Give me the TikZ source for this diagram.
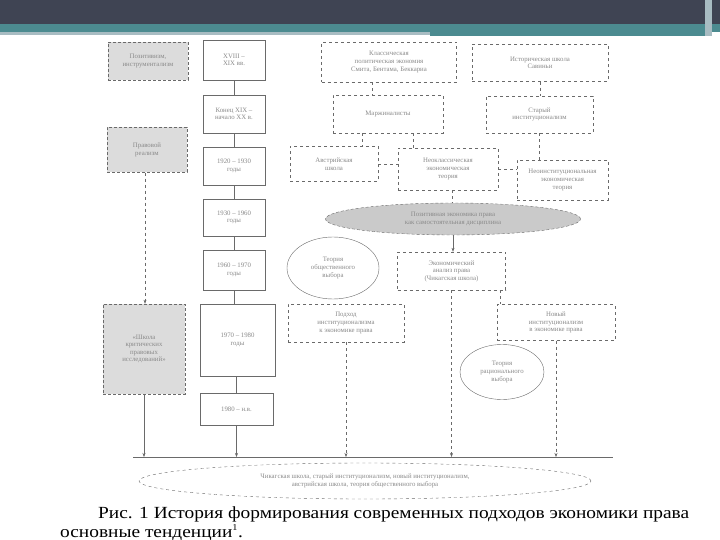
\documentclass[tikz,border=0pt]{standalone}
\usepackage{fontspec}
\setmainfont{Liberation Serif}
\usetikzlibrary{arrows.meta,positioning,shapes.geometric,backgrounds}
\definecolor{slate}{HTML}{3F4453}
\definecolor{band}{HTML}{4C8B90}
\definecolor{haze}{HTML}{A8BCC2}
\definecolor{ink}{HTML}{6A6A6A}
\definecolor{fade}{HTML}{8A8A8A}
\definecolor{shade}{HTML}{DCDCDC}

\begin{document}
\begin{tikzpicture}[x=1pt,y=-1pt,
  font=\fontsize{6.8}{7.6}\selectfont,
  era/.style={draw=ink,fill=white,text=fade,align=center,inner sep=1pt},
  school/.style={era,dashed},
  grey/.style={era,fill=shade,densely dashed},
  oval/.style={ellipse,draw=ink,text=fade,align=center,inner sep=0pt},
  link/.style={draw=ink,thin,dashed},
  arr/.style={link,-{Stealth[length=4pt,width=3pt]}}]
  \useasboundingbox (0,0) rectangle (720,540);
  % slide header
  \fill[slate] (0,0) rectangle (720,24);
  \fill[band] (0,24) rectangle (720,32);
  \fill[haze] (0,32) rectangle (430,35);
  \fill[band] (430,32) rectangle (705,36);
  \fill[haze] (705,0) rectangle (712,36);
  % left column
  \node[grey,minimum width=80pt,minimum height=38pt] (posit) at (148,61) {Позитивизм,\\инструментализм};
  \node[grey,minimum width=80pt,minimum height=45pt] (realism) at (147,150) {Правовой\\реализм};
  \node[grey,minimum width=82pt,minimum height=90pt] (crit) at (144,349) {«Школа\\критических\\правовых\\исследований»};
  % periods
  \node[era,minimum width=62pt,minimum height=40pt] (p1) at (234,60) {XVIII --\\XIX вв.};
  \node[era,minimum width=62pt,minimum height=38pt] (p2) at (234,114) {Конец XIX --\\начало XX в.};
  \node[era,minimum width=62pt,minimum height=38pt] (p3) at (234,166) {1920 -- 1930\\годы};
  \node[era,minimum width=62pt,minimum height=37pt] (p4) at (234,217.5) {1930 -- 1960\\годы};
  \node[era,minimum width=62pt,minimum height=40pt] (p5) at (234,270) {1960 -- 1970\\годы};
  \node[era,minimum width=75pt,minimum height=72pt] (p6) at (237.5,340) {1970 -- 1980\\годы};
  \node[era,minimum width=73pt,minimum height=32pt] (p7) at (236.5,409) {1980 -- н.в.};
  % schools
  \node[school,minimum width=135pt,minimum height=40pt] (classic) at (389,62) {Классическая\\политическая экономия\\Смита, Бентама, Беккариа};
  \node[school,minimum width=136pt,minimum height=37pt] (hist) at (540,63) {Историческая школа\\Савиньи};
  \node[school,minimum width=110pt,minimum height=38pt] (margin) at (388,114) {Маржиналисты};
  \node[school,minimum width=107pt,minimum height=37pt] (oldinst) at (539.5,114.5) {Старый\\институционализм};
  \node[school,minimum width=88pt,minimum height=35pt] (austria) at (334,164) {Австрийская\\школа};
  \node[school,minimum width=100pt,minimum height=42pt] (neocl) at (448,169) {Неоклассическая\\экономическая\\теория};
  \node[school,minimum width=91pt,minimum height=40pt] (neoinst) at (562.5,180) {Неоинституциональная\\экономическая\\теория};
  \node[oval,fill=shade!92!black,densely dashed,minimum width=255pt,minimum height=32pt] (posec) at (453,219) {Позитивная экономика права\\как самостоятельная дисциплина};
  \node[oval,minimum width=92pt,minimum height=62pt] (pubch) at (333,268) {Теория\\общественного\\выбора};
  \node[school,minimum width=108pt,minimum height=38pt] (chicago) at (451.5,271) {Экономический\\анализ права\\(Чикагская школа)};
  \node[school,minimum width=116pt,minimum height=38pt] (instap) at (346,323) {Подход\\институционализма\\к экономике права};
  \node[school,minimum width=118pt,minimum height=36pt] (newinst) at (556,322.5) {Новый\\институционализм\\в экономике права};
  \node[oval,minimum width=84pt,minimum height=55pt] (ratio) at (502,372) {Теория\\рационального\\выбора};
  \node[oval,dashed,minimum width=452pt,minimum height=36pt] (today) at (365,481) {Чикагская школа, старый институционализм, новый институционализм,\\австрийская школа, теория общественного выбора};
  % caption
  \node[font=\fontsize{17}{19}\selectfont,anchor=base west,inner sep=0pt] (cap1) at (98,518) {\scalebox{1.14}[1]{Рис. 1 История формирования современных подходов экономики права}};
  \node[font=\fontsize{17}{19}\selectfont,anchor=base west,inner sep=0pt] (cap2) at (60,537) {\scalebox{1.14}[1]{основные тенденции\textsuperscript{\fontsize{9}{9}\selectfont 1}.}};
  % common line
  \coordinate (busL) at (133,457);
  \coordinate (busR) at (613,457);
  \draw[ink,thin] (busL) -- (busR);
  % links
  \draw[ink] (p1) -- (p2);
  \draw[ink] (p2) -- (p3);
  \draw[ink] (p3) -- (p4);
  \draw[ink] (p4) -- (p5);
  \draw[ink] (p5.south) -- (p5.south |- p6.north);
  \draw[ink] (p7.north) -- (p7.north |- p6.south);
  \draw[ink,-{Stealth[length=4pt,width=3pt]}] (p7.south) -- (p7.south |- busL);
  \draw[arr] ([xshift=-2pt]realism.south) -- ([xshift=-2pt]realism.south |- crit.north);
  \draw[ink,-{Stealth[length=4pt,width=3pt]}] (crit.south) -- (crit.south |- busL);
  \draw[link] ([xshift=-17pt]classic.south) -- ([xshift=-17pt]classic.south |- margin.north);
  \draw[link] (hist.south) -- (hist.south |- oldinst.north);
  \draw[link] ([xshift=-26pt]margin.south) -- ([xshift=-26pt]margin.south |- austria.north);
  \draw[link] ([xshift=25pt]margin.south) -- ([xshift=25pt]margin.south |- neocl.north);
  \draw[link] (oldinst.south) -- (oldinst.south |- neoinst.north);
  \draw[link] (austria.east) -- (austria.east -| neocl.west);
  \draw[link] (neocl.east) -- (neocl.east -| neoinst.west);
  \draw[link] ([xshift=4pt]neocl.south) -- ([xshift=4pt]neocl.south |- posec.north);
  \draw[arr,solid] (posec.south) -- (posec.south |- chicago.north);
  \draw[link] ([xshift=49pt]chicago.south) -- ([xshift=49pt]chicago.south |- newinst.north);
  \draw[arr] (chicago.south) -- (chicago.south |- busL);
  \draw[arr] (instap.south) -- (instap.south |- busL);
  \draw[arr] (newinst.south) -- (newinst.south |- busL);
\end{tikzpicture}
\end{document}
